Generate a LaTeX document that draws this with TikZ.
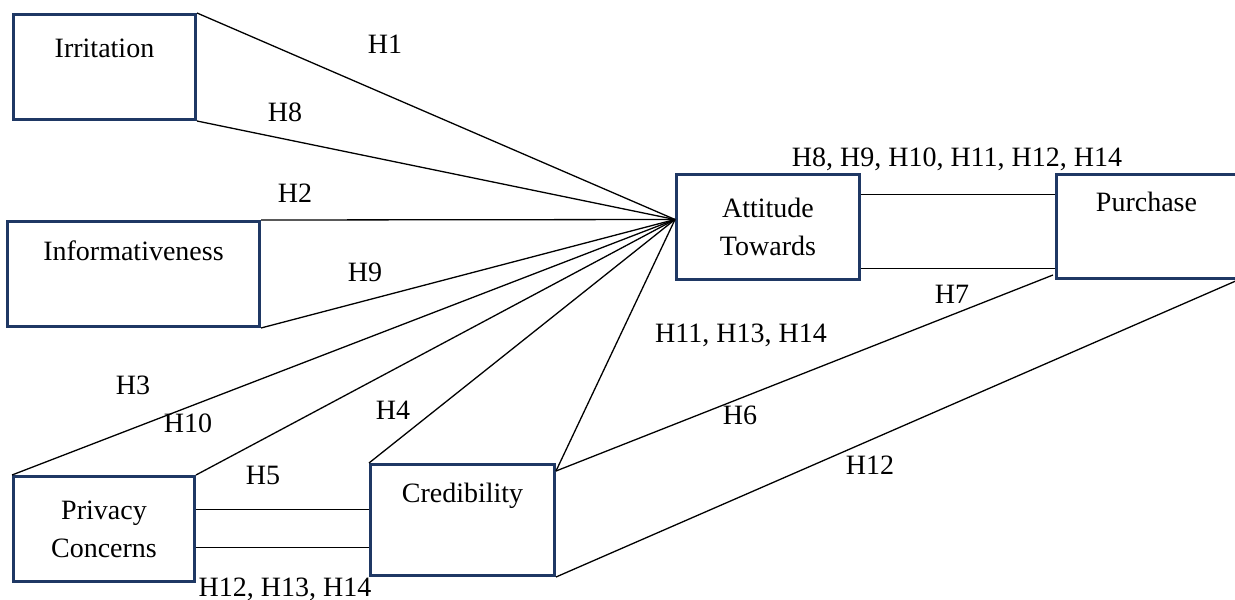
\documentclass[tikz,border=0pt]{standalone}
\usepackage{fontspec}
\setmainfont{Liberation Serif}
\usepackage{xcolor}
\definecolor{boxblue}{RGB}{31,56,100}
\tikzset{
  box/.style={draw=boxblue, line width=3pt, inner sep=0pt},
  link/.style={line width=1.3pt},
  hyp/.style={inner sep=0pt, text depth=0pt},
}

\begin{document}
\begin{tikzpicture}[x=1pt, y=-1pt, font=\fontsize{28}{38}\selectfont]
\useasboundingbox (0,0) rectangle (1235,600);

% constructs
\node[box, anchor=north west, minimum width=182pt, text height=43pt, text depth=62pt] (irr) at (12,13) {Irritation};
\node[box, anchor=north west, minimum width=252pt, text height=39pt, text depth=66pt] (inf) at (6,220) {Informativeness};
\node[box, anchor=north west, minimum width=181pt, minimum height=105pt, align=center] (prv) at (12,475) {Privacy\\Concerns};
\node[box, anchor=north west, minimum width=184pt, text height=38pt, text depth=73pt] (cred) at (369,463) {Credibility};
\node[box, anchor=north west, minimum width=183pt, minimum height=105pt, align=center] (att) at (675,173) {Attitude\\Towards};
\node[box, anchor=north west, minimum width=180pt, text height=37pt, text depth=67pt] (pur) at (1055,173) {Purchase};

\coordinate (hub) at ([yshift=7.5pt]att.west);
\coordinate (credtip) at ([yshift=-8pt]cred.north east);
\coordinate (purtip) at ([shift={(-2pt,5pt)}]pur.south west);
\coordinate (ap1) at ([yshift=32.5pt]att.east);
\coordinate (ap2) at ([yshift=-41.5pt]att.east);
\coordinate (pc1) at ([yshift=19.5pt]prv.east);
\coordinate (pc2) at ([yshift=-18.5pt]prv.east);

% paths into attitude
\draw[link] (irr.north east) -- (hub);
\draw[link] (irr.south east) -- (hub);
\draw[link] (inf.north east) -- (hub);
\draw[link] (inf.south east) -- (hub);
\draw[link] (prv.north west) -- (hub);
\draw[link] (prv.north east) -- (hub);
\draw[link] (cred.north west) -- (hub);
\draw[link] (credtip) -- (hub);

% other paths
\draw[link] (ap1) -- (ap1 -| pur.west);
\draw[link] (ap2) -- (ap2 -| pur.west);
\draw[link] (pc1) -- (pc1 -| cred.west);
\draw[link] (pc2) -- (pc2 -| cred.west);
\draw[link] (credtip) -- (purtip);
\draw[link] (cred.south east) -- (pur.south east);

% hypotheses
\node[hyp] (h1) at (385,44) {H1};
\node[hyp] (h8) at (285,112) {H8};
\node[hyp] (h2) at (295,193) {H2};
\node[hyp] (h9) at (365,272) {H9};
\node[hyp] (h3) at (133,385) {H3};
\node[hyp] (h10) at (188,423) {H10};
\node[hyp] (h4) at (393,410) {H4};
\node[hyp] (h5) at (263,475) {H5};
\node[hyp] (hpc) at (285,587) {H12, H13, H14};
\node[hyp] (hcr) at (741,333) {H11, H13, H14};
\node[hyp] (h6) at (740,415) {H6};
\node[hyp] (h7) at (952,294) {H7};
\node[hyp] (h12) at (870,465) {H12};
\node[hyp] (hap) at (957,157) {H8, H9, H10, H11, H12, H14};

\end{tikzpicture}
\end{document}
